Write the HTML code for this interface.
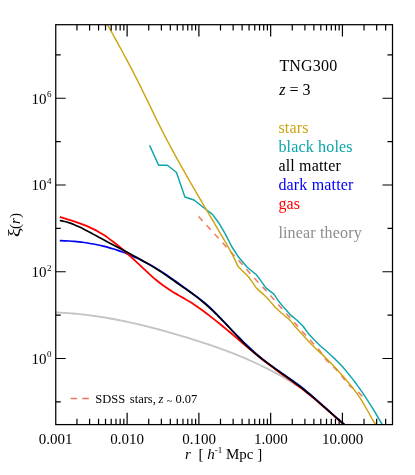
<!DOCTYPE html>
<html><head><meta charset="utf-8"><title>TNG300 correlation functions</title>
<style>
html,body{margin:0;padding:0;background:#fff;}
body{width:415px;height:475px;overflow:hidden;}
svg{display:block;will-change:transform;}
text{font-family:"Liberation Serif",serif;fill:#000;}
.tl{font-size:15px;}
.lg{font-size:16px;}
.sup{font-size:9px;}
</style></head><body>
<svg width="415" height="475" viewBox="0 0 415 475">
<rect x="0" y="0" width="415" height="475" fill="#fff"/>
<defs><clipPath id="cp"><rect x="55.75" y="24.70" width="336.75" height="399.90"/></clipPath></defs>

<g clip-path="url(#cp)" fill="none" stroke-linejoin="round" stroke-linecap="butt">
<path d="M55.75,312.45 C56.47,312.48 58.61,312.56 60.05,312.63 C61.48,312.70 62.91,312.78 64.34,312.87 C65.78,312.96 67.21,313.05 68.64,313.16 C70.07,313.26 71.51,313.38 72.94,313.50 C74.37,313.62 75.80,313.76 77.24,313.90 C78.67,314.04 80.10,314.18 81.53,314.34 C82.97,314.50 84.40,314.66 85.83,314.83 C87.26,315.01 88.70,315.19 90.13,315.37 C91.56,315.56 92.99,315.76 94.43,315.96 C95.86,316.16 97.29,316.37 98.72,316.59 C100.16,316.81 101.59,317.04 103.02,317.27 C104.45,317.50 105.89,317.74 107.32,317.99 C108.75,318.23 110.18,318.49 111.62,318.75 C113.05,319.01 114.48,319.27 115.91,319.55 C117.35,319.82 118.78,320.10 120.21,320.39 C121.64,320.67 123.08,320.97 124.51,321.27 C125.94,321.57 127.37,321.87 128.81,322.18 C130.24,322.49 131.67,322.81 133.10,323.13 C134.54,323.45 135.97,323.78 137.40,324.12 C138.83,324.45 140.27,324.79 141.70,325.14 C143.13,325.48 144.56,325.83 146.00,326.19 C147.43,326.54 148.86,326.90 150.29,327.27 C151.73,327.64 153.16,328.01 154.59,328.38 C156.02,328.76 157.46,329.14 158.89,329.52 C160.32,329.91 161.75,330.30 163.19,330.69 C164.62,331.08 166.05,331.48 167.48,331.89 C168.92,332.29 170.35,332.69 171.78,333.11 C173.21,333.52 174.65,333.93 176.08,334.35 C177.51,334.77 178.94,335.19 180.38,335.62 C181.81,336.04 183.24,336.47 184.67,336.90 C186.11,337.34 187.54,337.77 188.97,338.21 C190.40,338.65 191.84,339.10 193.27,339.55 C194.70,339.99 196.13,340.44 197.57,340.90 C199.00,341.36 200.43,341.82 201.86,342.28 C203.30,342.75 204.73,343.22 206.16,343.70 C207.59,344.17 209.03,344.66 210.46,345.14 C211.89,345.63 213.32,346.12 214.76,346.62 C216.19,347.13 217.62,347.63 219.05,348.14 C220.49,348.66 221.92,349.18 223.35,349.71 C224.78,350.23 226.22,350.77 227.65,351.31 C229.08,351.85 230.51,352.40 231.95,352.96 C233.38,353.52 234.81,354.08 236.24,354.66 C237.68,355.23 239.11,355.82 240.54,356.41 C241.97,357.00 243.41,357.60 244.84,358.22 C246.27,358.83 247.70,359.45 249.14,360.08 C250.57,360.71 252.00,361.35 253.43,362.00 C254.87,362.65 256.30,363.31 257.73,363.99 C259.16,364.66 260.60,365.34 262.03,366.04 C263.46,366.73 264.89,367.44 266.33,368.16 C267.76,368.87 269.19,369.60 270.62,370.34 C272.06,371.09 273.49,371.84 274.92,372.61 C276.35,373.37 277.79,374.15 279.22,374.95 C280.65,375.74 282.08,376.54 283.52,377.36 C284.95,378.18 286.38,379.02 287.81,379.86 C289.25,380.71 290.68,381.57 292.11,382.45 C293.54,383.32 294.98,384.21 296.41,385.12 C297.84,386.02 299.27,386.94 300.71,387.88 C302.14,388.81 303.57,389.76 305.00,390.73 C306.44,391.69 308.58,393.18 309.30,393.67" stroke="#c4c4c4" stroke-width="1.9"/>
<path d="M59.80,240.67 C60.60,240.69 63.02,240.74 64.62,240.81 C66.23,240.87 67.84,240.95 69.45,241.05 C71.06,241.15 72.66,241.27 74.27,241.41 C75.88,241.55 77.49,241.71 79.09,241.89 C80.70,242.07 82.31,242.27 83.92,242.49 C85.53,242.71 87.13,242.95 88.74,243.21 C90.35,243.47 91.96,243.75 93.57,244.06 C95.17,244.36 96.78,244.69 98.39,245.04 C100.00,245.39 101.61,245.76 103.21,246.15 C104.82,246.55 106.43,246.97 108.04,247.41 C109.65,247.85 111.25,248.32 112.86,248.81 C114.47,249.30 116.08,249.81 117.68,250.35 C119.29,250.89 120.90,251.46 122.51,252.05 C124.12,252.64 125.72,253.26 127.33,253.90 C128.94,254.55 130.55,255.22 132.16,255.91 C133.76,256.61 135.37,257.33 136.98,258.09 C138.59,258.84 140.20,259.61 141.80,260.42 C143.41,261.22 145.02,262.06 146.63,262.92 C148.24,263.78 149.84,264.66 151.45,265.58 C153.06,266.49 154.67,267.43 156.27,268.40 C157.88,269.37 159.49,270.36 161.10,271.39 C162.71,272.41 164.31,273.47 165.92,274.54 C167.53,275.61 169.14,276.72 170.75,277.84 C172.35,278.95 173.96,280.09 175.57,281.24 C177.18,282.38 178.79,283.55 180.39,284.71 C182.00,285.87 183.61,287.05 185.22,288.21 C186.82,289.38 188.43,290.55 190.04,291.71 C191.65,292.88 193.26,294.02 194.86,295.20 C196.47,296.38 198.08,297.55 199.69,298.79 C201.30,300.03 202.90,301.29 204.51,302.63 C206.12,303.98 207.73,305.39 209.34,306.87 C210.94,308.36 212.55,309.94 214.16,311.55 C215.77,313.16 217.38,314.84 218.98,316.53 C220.59,318.21 222.20,319.95 223.81,321.65 C225.41,323.36 227.02,325.08 228.63,326.77 C230.24,328.46 231.85,330.14 233.45,331.79 C235.06,333.45 236.67,335.09 238.28,336.70 C239.89,338.31 241.49,339.91 243.10,341.47 C244.71,343.04 246.32,344.58 247.93,346.09 C249.53,347.60 251.14,349.09 252.75,350.54 C254.36,351.99 255.96,353.41 257.57,354.79 C259.18,356.18 260.79,357.53 262.40,358.84 C264.00,360.15 265.61,361.42 267.22,362.66 C268.83,363.89 270.44,365.09 272.04,366.27 C273.65,367.44 275.26,368.58 276.87,369.72 C278.48,370.86 280.08,371.97 281.69,373.08 C283.30,374.20 284.91,375.30 286.52,376.41 C288.12,377.52 289.73,378.63 291.34,379.76 C292.95,380.89 294.55,382.03 296.16,383.20 C297.77,384.37 299.38,385.56 300.99,386.78 C302.59,388.01 304.20,389.27 305.81,390.57 C307.42,391.87 309.03,393.21 310.63,394.57 C312.24,395.94 313.85,397.34 315.46,398.75 C317.07,400.16 318.67,401.59 320.28,403.03 C321.89,404.47 323.50,405.92 325.11,407.37 C326.71,408.82 328.32,410.27 329.93,411.71 C331.54,413.15 333.14,414.59 334.75,416.00 C336.36,417.41 337.97,418.81 339.58,420.17 C341.18,421.54 343.60,423.52 344.40,424.19" stroke="#0000f0" stroke-width="1.65"/>
<path d="M59.80,216.95 C60.60,217.20 63.01,217.95 64.62,218.45 C66.22,218.94 67.83,219.43 69.43,219.93 C71.04,220.43 72.65,220.93 74.25,221.45 C75.86,221.98 77.46,222.51 79.07,223.07 C80.67,223.64 82.28,224.22 83.88,224.85 C85.49,225.48 87.10,226.13 88.70,226.84 C90.31,227.55 91.91,228.29 93.52,229.09 C95.12,229.90 96.73,230.75 98.34,231.67 C99.94,232.59 101.55,233.57 103.15,234.60 C104.76,235.63 106.36,236.72 107.97,237.86 C109.58,238.99 111.18,240.18 112.79,241.41 C114.39,242.63 116.00,243.91 117.60,245.22 C119.21,246.53 120.81,247.88 122.42,249.26 C124.03,250.64 125.63,252.06 127.24,253.50 C128.84,254.94 130.45,256.41 132.05,257.90 C133.66,259.38 135.27,260.90 136.87,262.41 C138.48,263.92 140.08,265.45 141.69,266.96 C143.29,268.47 144.90,269.98 146.51,271.46 C148.11,272.93 149.72,274.40 151.32,275.82 C152.93,277.24 154.53,278.64 156.14,279.98 C157.74,281.31 159.35,282.61 160.96,283.84 C162.56,285.06 164.17,286.22 165.77,287.33 C167.38,288.43 168.98,289.46 170.59,290.47 C172.20,291.48 173.80,292.43 175.41,293.39 C177.01,294.34 178.62,295.25 180.22,296.18 C181.83,297.11 183.44,298.02 185.04,298.96 C186.65,299.91 188.25,300.86 189.86,301.86 C191.46,302.85 193.07,303.88 194.67,304.95 C196.28,306.01 197.89,307.12 199.49,308.25 C201.10,309.37 202.70,310.54 204.31,311.72 C205.91,312.91 207.52,314.12 209.13,315.36 C210.73,316.59 212.34,317.85 213.94,319.13 C215.55,320.40 217.15,321.70 218.76,323.01 C220.36,324.31 221.97,325.64 223.58,326.98 C225.18,328.31 226.79,329.66 228.39,331.01 C230.00,332.37 231.60,333.73 233.21,335.09 C234.82,336.46 236.42,337.83 238.03,339.19 C239.63,340.56 241.24,341.93 242.84,343.29 C244.45,344.66 246.06,346.02 247.66,347.37 C249.27,348.72 250.87,350.07 252.48,351.40 C254.08,352.73 255.69,354.05 257.29,355.36 C258.90,356.66 260.51,357.95 262.11,359.22 C263.72,360.49 265.32,361.74 266.93,362.97 C268.53,364.20 270.14,365.41 271.75,366.61 C273.35,367.81 274.96,368.99 276.56,370.16 C278.17,371.34 279.77,372.50 281.38,373.66 C282.99,374.83 284.59,375.98 286.20,377.14 C287.80,378.31 289.41,379.47 291.01,380.64 C292.62,381.81 294.22,382.99 295.83,384.18 C297.44,385.37 299.04,386.57 300.65,387.80 C302.25,389.02 303.86,390.27 305.46,391.53 C307.07,392.80 308.68,394.08 310.28,395.39 C311.89,396.70 313.49,398.02 315.10,399.37 C316.70,400.71 318.31,402.07 319.92,403.44 C321.52,404.82 323.13,406.21 324.73,407.61 C326.34,409.01 327.94,410.43 329.55,411.85 C331.15,413.28 332.76,414.71 334.37,416.15 C335.97,417.60 337.58,419.05 339.18,420.50 C340.79,421.95 343.20,424.15 344.00,424.88" stroke="#ff0000" stroke-width="1.8"/>
<path d="M59.80,220.55 C60.60,220.70 63.02,221.10 64.62,221.49 C66.23,221.88 67.84,222.37 69.45,222.90 C71.06,223.44 72.66,224.06 74.27,224.72 C75.88,225.37 77.49,226.10 79.09,226.85 C80.70,227.60 82.31,228.40 83.92,229.22 C85.53,230.03 87.13,230.89 88.74,231.75 C90.35,232.61 91.96,233.50 93.57,234.37 C95.17,235.25 96.78,236.13 98.39,237.00 C100.00,237.87 101.61,238.73 103.21,239.59 C104.82,240.45 106.43,241.30 108.04,242.15 C109.65,243.00 111.25,243.84 112.86,244.68 C114.47,245.53 116.08,246.37 117.68,247.21 C119.29,248.06 120.90,248.90 122.51,249.75 C124.12,250.59 125.72,251.44 127.33,252.30 C128.94,253.15 130.55,254.01 132.16,254.88 C133.76,255.75 135.37,256.62 136.98,257.51 C138.59,258.40 140.20,259.29 141.80,260.20 C143.41,261.11 145.02,262.03 146.63,262.97 C148.24,263.91 149.84,264.87 151.45,265.84 C153.06,266.82 154.67,267.81 156.27,268.82 C157.88,269.84 159.49,270.87 161.10,271.93 C162.71,272.99 164.31,274.08 165.92,275.19 C167.53,276.29 169.14,277.42 170.75,278.55 C172.35,279.68 173.96,280.83 175.57,281.96 C177.18,283.09 178.79,284.22 180.39,285.34 C182.00,286.45 183.61,287.53 185.22,288.64 C186.82,289.75 188.43,290.84 190.04,292.00 C191.65,293.15 193.26,294.34 194.86,295.57 C196.47,296.79 198.08,298.06 199.69,299.37 C201.30,300.67 202.90,302.02 204.51,303.40 C206.12,304.78 207.73,306.20 209.34,307.66 C210.94,309.11 212.55,310.61 214.16,312.14 C215.77,313.66 217.38,315.23 218.98,316.83 C220.59,318.43 222.20,320.07 223.81,321.73 C225.41,323.40 227.02,325.12 228.63,326.84 C230.24,328.57 231.85,330.33 233.45,332.07 C235.06,333.82 236.67,335.58 238.28,337.29 C239.89,339.00 241.49,340.71 243.10,342.35 C244.71,343.98 246.32,345.58 247.93,347.10 C249.53,348.62 251.14,350.06 252.75,351.46 C254.36,352.87 255.96,354.20 257.57,355.51 C259.18,356.81 260.79,358.06 262.40,359.30 C264.00,360.54 265.61,361.74 267.22,362.93 C268.83,364.12 270.44,365.29 272.04,366.45 C273.65,367.62 275.26,368.76 276.87,369.91 C278.48,371.05 280.08,372.19 281.69,373.33 C283.30,374.47 284.91,375.61 286.52,376.76 C288.12,377.91 289.73,379.06 291.34,380.23 C292.95,381.40 294.55,382.58 296.16,383.78 C297.77,384.98 299.38,386.19 300.99,387.44 C302.59,388.69 304.20,389.95 305.81,391.25 C307.42,392.55 309.03,393.88 310.63,395.22 C312.24,396.57 313.85,397.94 315.46,399.32 C317.07,400.70 318.67,402.10 320.28,403.51 C321.89,404.92 323.50,406.34 325.11,407.77 C326.71,409.19 328.32,410.62 329.93,412.05 C331.54,413.47 333.14,414.91 334.75,416.32 C336.36,417.74 337.97,419.16 339.58,420.56 C341.18,421.96 343.60,424.03 344.40,424.73" stroke="#000000" stroke-width="1.65"/>
<path d="M198.60,216.40 C199.90,217.85 203.73,222.18 206.40,225.10 C209.07,228.02 211.89,230.95 214.60,233.90 C217.31,236.85 219.95,239.80 222.65,242.80 C225.35,245.80 228.12,248.95 230.80,251.90 C233.48,254.85 236.08,257.60 238.70,260.50 C241.32,263.40 243.85,266.32 246.50,269.30 C249.15,272.28 251.83,275.37 254.60,278.40 C257.37,281.43 260.38,284.58 263.10,287.50 C265.82,290.42 268.30,293.00 270.90,295.90 C273.50,298.80 275.85,301.65 278.70,304.90 C281.55,308.15 285.08,312.13 288.00,315.40 C290.92,318.67 293.55,321.52 296.20,324.50 C298.85,327.48 301.28,330.40 303.90,333.30 C306.52,336.20 309.28,339.03 311.90,341.90 C314.52,344.77 317.40,347.70 319.60,350.50 C321.80,353.30 323.18,356.33 325.10,358.70 C327.02,361.07 329.08,362.70 331.10,364.70 C333.12,366.70 335.18,368.50 337.20,370.70 C339.22,372.90 341.17,375.45 343.20,377.90 C345.23,380.35 347.03,383.15 349.40,385.40 C351.77,387.65 355.25,389.58 357.40,391.40 C359.55,393.22 361.48,395.48 362.30,396.30" stroke="#f0785a" stroke-width="1.5" stroke-dasharray="6,5.88"/>
<path d="M149.6,145.4 L158.6,165.3 L167.3,165.3 L176.4,172.3 L184.9,197.0 L194.0,200.0 L206.4,209.8 L212.3,214.1 L219.1,223.3 L225.1,233.6 L232.0,247.0 L238.7,257.3 L247.1,267.3 L256.4,274.8 L261.3,281.4 L266.1,288.1 L273.9,294.1 L278.7,301.3 L284.8,308.6 L291.0,315.4 L297.0,320.2 L303.1,326.3 L307.9,332.9 L313.9,339.5 L319.9,345.5 L326.0,350.7 L332.0,356.3 L335.4,359.4 L338.7,362.7 L342.1,366.3 L345.4,370.1 L348.8,374.2 L352.1,378.4 L355.5,382.8 L358.8,387.4 L362.2,392.2 L365.5,397.2 L368.9,402.3 L372.2,407.6 L375.6,413.1 L378.9,418.8 L382.3,424.7" stroke="#0aa5aa" stroke-width="1.45"/>
<path d="M107.60,24.80 C108.11,25.74 109.66,28.56 110.70,30.44 C111.73,32.32 112.77,34.20 113.80,36.08 C114.84,37.96 115.88,39.84 116.91,41.72 C117.94,43.60 118.98,45.48 120.01,47.36 C121.04,49.24 122.07,51.12 123.09,53.01 C124.11,54.89 125.13,56.77 126.14,58.65 C127.15,60.53 128.15,62.41 129.15,64.29 C130.15,66.17 131.14,68.05 132.12,69.93 C133.10,71.81 134.07,73.69 135.03,75.57 C135.99,77.45 136.94,79.33 137.88,81.21 C138.83,83.09 139.76,84.97 140.69,86.85 C141.61,88.73 142.53,90.61 143.45,92.49 C144.37,94.37 145.28,96.25 146.19,98.13 C147.10,100.01 148.01,101.89 148.92,103.77 C149.83,105.65 150.74,107.54 151.65,109.42 C152.56,111.30 153.47,113.18 154.39,115.06 C155.31,116.94 156.23,118.82 157.15,120.70 C158.08,122.58 159.01,124.46 159.96,126.34 C160.90,128.22 161.85,130.10 162.81,131.98 C163.77,133.86 164.74,135.74 165.72,137.62 C166.70,139.50 167.69,141.38 168.69,143.26 C169.68,145.14 170.69,147.02 171.70,148.90 C172.71,150.78 173.73,152.66 174.76,154.54 C175.79,156.42 176.82,158.30 177.86,160.18 C178.90,162.06 179.95,163.95 181.00,165.83 C182.06,167.71 183.12,169.59 184.18,171.47 C185.25,173.35 186.32,175.23 187.39,177.11 C188.46,178.99 189.54,180.87 190.63,182.75 C191.71,184.63 192.80,186.51 193.89,188.39 C194.98,190.27 196.07,192.15 197.17,194.03 C198.27,195.91 199.37,197.79 200.47,199.67 C201.57,201.55 202.67,203.43 203.78,205.31 C204.89,207.19 205.99,209.07 207.10,210.95 C208.21,212.83 209.32,214.71 210.43,216.59 C211.54,218.48 212.65,220.36 213.76,222.24 C214.87,224.12 215.98,226.00 217.09,227.88 C218.20,229.76 219.31,231.64 220.41,233.52 C221.52,235.40 222.63,237.28 223.73,239.16 C224.83,241.04 226.48,243.86 227.03,244.80 L233.2,256.1 L238.1,266.6 L247.7,276.0 L251.0,280.2 L256.4,288.1 L263.1,294.1 L269.1,300.1 L275.1,307.3 L281.1,312.8 L289.0,319.2 L291.0,321.4 L297.0,328.7 L303.1,335.3 L309.1,341.9 L315.1,348.0 L319.2,351.6 L323.2,355.4 L327.3,359.4 L331.3,363.5 L335.4,367.7 L339.4,372.2 L343.5,376.8 L347.5,381.5 L351.6,386.5 L355.6,391.7 L359.7,397.4 L363.7,403.8 L367.8,411.0 L371.8,418.4 L375.9,425.0" stroke="#cda514" stroke-width="1.45"/>
</g>
<path d="M76.95,24.70 v5.80 M76.95,424.60 v-5.80 M89.59,24.70 v5.80 M89.59,424.60 v-5.80 M98.56,24.70 v5.80 M98.56,424.60 v-5.80 M105.52,24.70 v5.80 M105.52,424.60 v-5.80 M111.20,24.70 v5.80 M111.20,424.60 v-5.80 M116.00,24.70 v5.80 M116.00,424.60 v-5.80 M120.16,24.70 v5.80 M120.16,424.60 v-5.80 M123.84,24.70 v5.80 M123.84,424.60 v-5.80 M127.12,24.70 v11.80 M127.12,424.60 v-11.80 M148.72,24.70 v5.80 M148.72,424.60 v-5.80 M161.36,24.70 v5.80 M161.36,424.60 v-5.80 M170.33,24.70 v5.80 M170.33,424.60 v-5.80 M177.29,24.70 v5.80 M177.29,424.60 v-5.80 M182.97,24.70 v5.80 M182.97,424.60 v-5.80 M187.77,24.70 v5.80 M187.77,424.60 v-5.80 M191.93,24.70 v5.80 M191.93,424.60 v-5.80 M195.61,24.70 v5.80 M195.61,424.60 v-5.80 M198.89,24.70 v11.80 M198.89,424.60 v-11.80 M220.49,24.70 v5.80 M220.49,424.60 v-5.80 M233.13,24.70 v5.80 M233.13,424.60 v-5.80 M242.10,24.70 v5.80 M242.10,424.60 v-5.80 M249.06,24.70 v5.80 M249.06,424.60 v-5.80 M254.74,24.70 v5.80 M254.74,424.60 v-5.80 M259.54,24.70 v5.80 M259.54,424.60 v-5.80 M263.70,24.70 v5.80 M263.70,424.60 v-5.80 M267.38,24.70 v5.80 M267.38,424.60 v-5.80 M270.66,24.70 v11.80 M270.66,424.60 v-11.80 M292.26,24.70 v5.80 M292.26,424.60 v-5.80 M304.90,24.70 v5.80 M304.90,424.60 v-5.80 M313.87,24.70 v5.80 M313.87,424.60 v-5.80 M320.83,24.70 v5.80 M320.83,424.60 v-5.80 M326.51,24.70 v5.80 M326.51,424.60 v-5.80 M331.31,24.70 v5.80 M331.31,424.60 v-5.80 M335.47,24.70 v5.80 M335.47,424.60 v-5.80 M339.15,24.70 v5.80 M339.15,424.60 v-5.80 M342.43,24.70 v11.80 M342.43,424.60 v-11.80 M364.03,24.70 v5.80 M364.03,424.60 v-5.80 M376.67,24.70 v5.80 M376.67,424.60 v-5.80 M385.64,24.70 v5.80 M385.64,424.60 v-5.80 M55.75,401.88 h5.00 M392.50,401.88 h-5.00 M55.75,358.50 h10.00 M392.50,358.50 h-10.00 M55.75,315.12 h5.00 M392.50,315.12 h-5.00 M55.75,271.75 h10.00 M392.50,271.75 h-10.00 M55.75,228.38 h5.00 M392.50,228.38 h-5.00 M55.75,185.00 h10.00 M392.50,185.00 h-10.00 M55.75,141.62 h5.00 M392.50,141.62 h-5.00 M55.75,98.25 h10.00 M392.50,98.25 h-10.00 M55.75,54.88 h5.00 M392.50,54.88 h-5.00" stroke="#000" stroke-width="1.2" fill="none"/>
<rect x="55.75" y="24.70" width="336.75" height="399.90" fill="none" stroke="#000" stroke-width="1.25"/>
<text class="tl" x="31.6" y="364">10</text><text class="sup" x="47.0" y="357">0</text>
<text class="tl" x="31.6" y="277">10</text><text class="sup" x="47.0" y="271">2</text>
<text class="tl" x="31.6" y="190">10</text><text class="sup" x="47.0" y="184">4</text>
<text class="tl" x="31.6" y="104">10</text><text class="sup" x="47.0" y="97">6</text>
<text class="tl" text-anchor="middle" x="55.5" y="443.8">0.001</text>
<text class="tl" text-anchor="middle" x="127.2" y="443.8">0.010</text>
<text class="tl" text-anchor="middle" x="199.0" y="443.8">0.100</text>
<text class="tl" text-anchor="middle" x="270.8" y="443.8">1.000</text>
<text class="tl" text-anchor="middle" x="342.5" y="443.8">10.000</text>
<text class="tl" x="185.1" y="459.3" xml:space="preserve"><tspan font-style="italic">r</tspan>  [ <tspan font-style="italic">h</tspan><tspan class="sup" dy="-6">-1</tspan><tspan dy="6"> Mpc ]</tspan></text>
<text transform="translate(20.3,237.0) rotate(-90) scale(1.21,1)" style="font-size:16.4px">ξ</text>
<text class="tl" transform="translate(20,228.9) rotate(-90)">(<tspan font-style="italic">r</tspan>)</text>
<text class="lg" x="279.4" y="71" style="letter-spacing:0.18px">TNG300</text>
<text class="lg" x="279.3" y="94.7"><tspan font-style="italic">z</tspan> = 3</text>
<text class="lg" x="278.4" y="133.1" style="fill:#cda514;letter-spacing:0.17px">stars</text>
<text class="lg" x="278.4" y="152.1" style="fill:#0aa5aa;letter-spacing:0.17px">black holes</text>
<text class="lg" x="278.4" y="171.1" style="fill:#000;letter-spacing:0.17px">all matter</text>
<text class="lg" x="278.4" y="190.1" style="fill:#0000ff;letter-spacing:0.17px">dark matter</text>
<text class="lg" x="278.4" y="209.1" style="fill:#ff0000;letter-spacing:0.17px">gas</text>
<text class="lg" x="278.4" y="238.0" style="fill:#8c8c8c;letter-spacing:0.17px">linear theory</text>
<path d="M70.6,398.6 H77.1 M82.2,398.6 H88.9" stroke="#f0785a" stroke-width="1.5" fill="none"/>
<text x="95.3" y="403" style="font-size:12.5px">SDSS <tspan dx="1.5">stars, </tspan><tspan font-style="italic" dx="-0.5">z</tspan><tspan dx="3.3" dy="1.4" style="font-size:10.5px">~</tspan><tspan dx="3.1" dy="-1.4">0.07</tspan></text>
</svg></body></html>
